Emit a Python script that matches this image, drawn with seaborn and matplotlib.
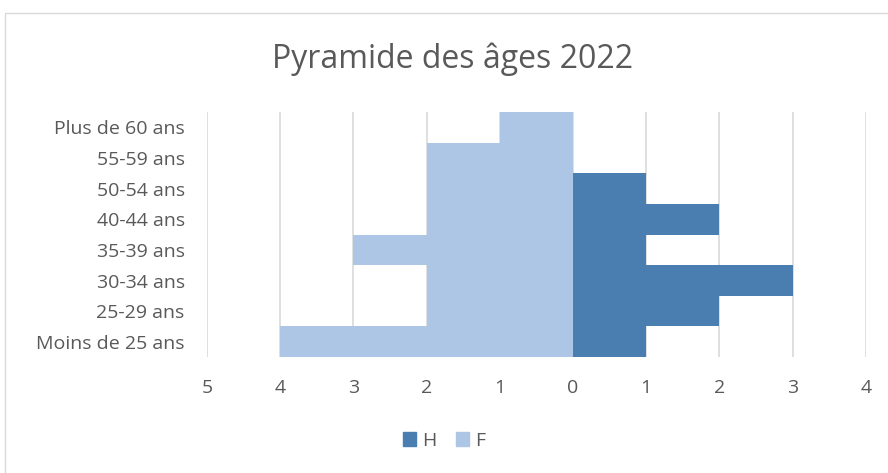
import pandas as pd
import matplotlib.pyplot as plt
import matplotlib.patches as mpatches
import seaborn as sns

ages = ['Plus de 60 ans', '55-59 ans', '50-54 ans', '40-44 ans',
        '35-39 ans', '30-34 ans', '25-29 ans', 'Moins de 25 ans']
hommes = [0, 0, 1, 2, 1, 3, 2, 1]
femmes = [1, 2, 2, 2, 3, 2, 2, 4]
ticks = [-5, -4, -3, -2, -1, 0, 1, 2, 3, 4]

df = pd.DataFrame({
    'age': ages * 2,
    'valeur': hommes + [-v for v in femmes],
    'sexe': ['H'] * len(ages) + ['F'] * len(ages),
})

sns.set_style('white')
plt.rcParams['font.family'] = ['Open Sans', 'DejaVu Sans']
gris = '#595959'
couleurs = {'H': '#4a7eb0', 'F': '#aec6e5'}

fig = plt.figure(figsize=(8.88, 4.73), dpi=100)
ax = fig.add_axes([0.233, 0.245, 0.742, 0.518])

sns.barplot(data=df, y='age', x='valeur', hue='sexe', order=ages,
            hue_order=['H', 'F'], palette=couleurs, saturation=1,
            dodge=False, width=1, orient='h', linewidth=0, ax=ax, zorder=3)

ax.set_xlim(-5, 4)
ax.set_xticks(ticks)
ax.set_xticklabels([str(abs(t)) for t in ticks])
ax.grid(axis='x', color='#d9d9d9', linewidth=1.2, zorder=0)
ax.set_axisbelow(True)
for s in ax.spines.values():
    s.set_visible(False)
ax.set_xlabel('')
ax.set_ylabel('')
ax.tick_params(axis='both', length=0, labelsize=14, colors=gris)
ax.tick_params(axis='x', pad=16)
ax.tick_params(axis='y', pad=16)

ax.legend_.remove()
handles = [mpatches.Patch(color=couleurs['H'], label='H'),
           mpatches.Patch(color=couleurs['F'], label='F')]
fig.legend(handles=handles, loc='center', bbox_to_anchor=(0.5, 0.068),
           ncol=2, frameon=False, fontsize=14, labelcolor=gris,
           handlelength=0.7, handleheight=0.7, handletextpad=0.3,
           columnspacing=1.0)

fig.text(0.51, 0.875, 'Pyramide des âges 2022', ha='center', va='center',
         fontsize=23, color=gris, family=['Open Sans', 'DejaVu Sans'])

fig.patches.append(mpatches.Rectangle((0.006, -0.1), 1.1, 1.072,
                                      transform=fig.transFigure, fill=False,
                                      edgecolor='#d9d9d9', linewidth=1))

fig.savefig('out.png', dpi=100)
